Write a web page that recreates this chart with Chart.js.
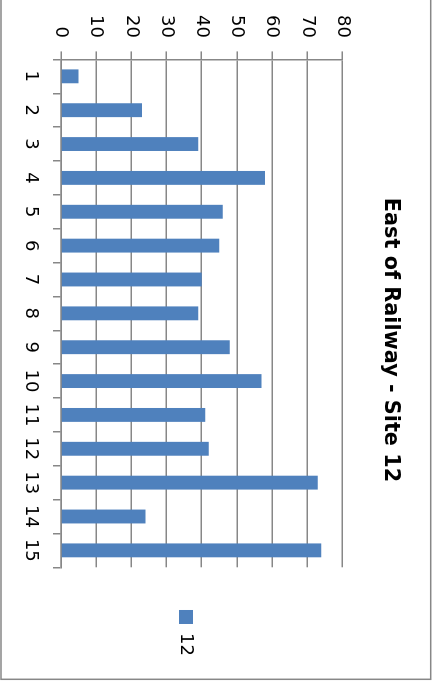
<!DOCTYPE html>
<html lang="en">
<head>
    <meta charset="UTF-8">
    <title>East of Railway - Site 12</title>
    <style>
        body {
            margin: 0;
            background: #ffffff;
            overflow: hidden;
        }

        /* chart is drawn landscape, then turned a quarter clockwise like the original sheet */
        .sheet {
            position: absolute;
            left: 0;
            top: 0;
            width: 691px;
            height: 435px;
            transform-origin: 0 0;
            transform: translateX(435px) rotate(90deg);
        }
    </style>
    <script src="https://cdn.jsdelivr.net/npm/chart.js"></script>
</head>
<body>
    <div class="sheet">
        <canvas id="siteChart" width="691" height="435"></canvas>
    </div>

    <script>
        const categories = ['1', '2', '3', '4', '5', '6', '7', '8', '9', '10', '11', '12', '13', '14', '15'];
        const site12 = [5, 23, 39, 58, 46, 45, 40, 39, 48, 57, 41, 42, 73, 24, 74];
        const valueTicks = [0, 10, 20, 30, 40, 50, 60, 70, 80];

        const gray = '#878787';

        Chart.defaults.font.family = 'DejaVu Sans';
        Chart.defaults.font.size = 18;
        Chart.defaults.color = '#000000';

        // outer frame of the excel chart object
        const framePlugin = {
            id: 'frame',
            beforeDraw(chart) {
                const ctx = chart.ctx;
                ctx.save();
                ctx.fillStyle = '#ffffff';
                ctx.fillRect(0, 0, chart.width, chart.height);
                ctx.strokeStyle = gray;
                ctx.lineWidth = 1.5;
                ctx.strokeRect(-2, 4.3, 681.3, 429.7);
                ctx.restore();
            }
        };

        const ctx = document.getElementById('siteChart').getContext('2d');
        new Chart(ctx, {
            type: 'bar',
            data: {
                labels: categories,
                datasets: [{
                    label: '12',
                    data: site12,
                    backgroundColor: '#4f81bd',
                    borderWidth: 0,
                    categoryPercentage: 1,
                    barPercentage: 0.41,
                }],
            },
            options: {
                responsive: false,
                animation: false,
                layout: {
                    padding: { left: 14.1, right: 25.1, top: 63, bottom: 0 },
                },
                plugins: {
                    title: {
                        display: true,
                        text: 'East of Railway - Site 12',
                        font: { size: 20.8, weight: 'bold' },
                        padding: { top: -30.7, bottom: 35.4 },
                    },
                    legend: {
                        position: 'right',
                        labels: {
                            boxWidth: 14,
                            boxHeight: 14,
                            padding: 42.7,
                        },
                    },
                    tooltip: { enabled: false },
                },
                scales: {
                    x: {
                        afterFit(scale) { scale.height = 61; },
                        grid: {
                            offset: true,
                            drawOnChartArea: false,
                            tickLength: 8,
                            color: gray,
                            lineWidth: 1.5,
                        },
                        border: { color: gray, width: 1.5 },
                        ticks: { padding: 12, maxRotation: 0, autoSkip: false },
                    },
                    y: {
                        min: valueTicks[0],
                        max: valueTicks[valueTicks.length - 1],
                        afterFit(scale) { scale.width = 45.3; },
                        grid: {
                            tickLength: 8,
                            color: gray,
                            lineWidth: 1.5,
                        },
                        border: { color: gray, width: 1.5 },
                        ticks: { padding: 13.4, stepSize: valueTicks[1] - valueTicks[0] },
                    },
                },
            },
            plugins: [framePlugin],
        });
    </script>
</body>
</html>
